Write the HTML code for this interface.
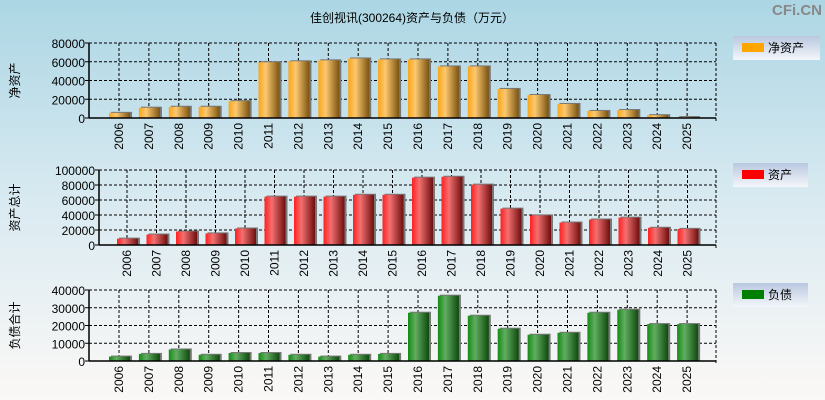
<!DOCTYPE html>
<html><head><meta charset="utf-8"><style>
body{margin:0;width:825px;height:400px;overflow:hidden;font-family:"Liberation Sans","Noto Sans CJK SC",sans-serif}
svg{display:block}
</style></head><body>
<svg id="c" width="825" height="400" xmlns="http://www.w3.org/2000/svg">
<defs>
<linearGradient id="bg" x1="0" y1="0" x2="0" y2="1"><stop offset="0" stop-color="#acd6e4"/><stop offset="0.5" stop-color="#d9eaf1"/><stop offset="1" stop-color="#fbf8f6"/></linearGradient>
<linearGradient id="go" x1="0" y1="0" x2="1" y2="0"><stop offset="0" stop-color="#f9a51a"/><stop offset="0.35" stop-color="#fcc870"/><stop offset="1" stop-color="#7a5310"/></linearGradient>
<linearGradient id="gr" x1="0" y1="0" x2="1" y2="0"><stop offset="0" stop-color="#ff2020"/><stop offset="0.35" stop-color="#f37070"/><stop offset="1" stop-color="#6e0e0e"/></linearGradient>
<linearGradient id="gg" x1="0" y1="0" x2="1" y2="0"><stop offset="0" stop-color="#138a13"/><stop offset="0.35" stop-color="#62ad62"/><stop offset="1" stop-color="#0d4a0d"/></linearGradient>
<linearGradient id="lg" x1="0" y1="0" x2="0" y2="1"><stop offset="0" stop-color="#b9c8e0"/><stop offset="1" stop-color="#f4f6fa"/></linearGradient>
</defs>
<rect width="825" height="400" fill="url(#bg)"/>
<text x="412" y="22" font-size="12" text-anchor="middle" fill="#000">佳创视讯(300264)资产与负债（万元）</text>
<text x="822" y="15" font-size="15" font-weight="bold" text-anchor="end" fill="#888">CFi.CN</text>
<g id="g"></g>
</svg>
<script>
const years=["2006","2007","2008","2009","2010","2011","2012","2013","2014","2015","2016","2017","2018","2019","2020","2021","2022","2023","2024","2025"];
const netAssets=[5500,11000,12000,12000,18000,59500,60500,61500,63500,62500,62500,55000,55000,31000,24500,15000,7500,8500,3000,1000];
const totalAssets=[8500,14000,18000,15500,22000,64500,64500,64500,67000,67000,89800,91000,80500,48500,39500,30000,34000,36500,23000,21500];
const liabilities=[2500,4000,6500,3500,4500,4500,3500,2500,3500,4000,27200,36800,25500,18200,14800,15900,27200,28900,20800,20800];
const ticks1=[0,20000,40000,60000,80000];
const ticks2=[0,20000,40000,60000,80000,100000];
const ticks3=[0,10000,20000,30000,40000];
const NS="http://www.w3.org/2000/svg";
const G=document.getElementById('g');
function mk(t,a,p){const e=document.createElementNS(NS,t);for(const k in a)e.setAttribute(k,a[k]);(p||G).appendChild(e);return e;}
function panel(o){
  const g=mk('g',{});
  
  
  const max=o.ticks[o.ticks.length-1];
  const y=v=>o.bot-(v/max)*(o.bot-o.top);
  const x=i=>o.c0+i*o.step;
  // grid
  o.ticks.forEach(t=>{ if(t>0){const l=mk('line',{x1:o.left,x2:o.right,y1:y(t),y2:y(t),stroke:'#000','stroke-dasharray':'3,2','stroke-width':1},g);}
    const tx=mk('text',{x:o.left-4,y:y(t)+5,'font-size':12,'text-anchor':'end',fill:'#000'},g);tx.textContent=t;
    
    mk('line',{x1:o.left-4,x2:o.left,y1:y(t),y2:y(t),stroke:'#000'},g);
  });
  years.forEach((yr,i)=>{const l=mk('line',{x1:x(i),x2:x(i),y1:o.top,y2:o.bot,stroke:'#000','stroke-dasharray':'3,2'},g);
    });
  mk('line',{x1:o.right,x2:o.right,y1:o.top,y2:o.bot+3,stroke:'#000','stroke-dasharray':'3,2'},g);
  // bars
  o.vals.forEach((v,i)=>{
    const h=o.bot-y(v);
    mk('rect',{x:x(i)-10+2,y:y(v)-1,width:21,height:h+1,fill:'#777'},g);
    const r=mk('rect',{x:x(i)-11+1,y:y(v),width:21,height:h,fill:'url(#'+o.grad+')'},g);
    
    
    const t=mk('text',{x:0,y:0,'font-size':12,'text-anchor':'end',fill:'#000',transform:`translate(${x(i)+4},${o.bot+5}) rotate(-90)`},g);
    t.textContent=years[i];
    
    
  });
  mk('line',{x1:o.left,x2:o.left,y1:o.top,y2:o.bot,stroke:'#000','stroke-width':1.5},g);
  mk('line',{x1:o.left,x2:o.right,y1:o.bot,y2:o.bot,stroke:'#000','stroke-width':1.5},g);
  const yl=mk('text',{x:0,y:0,'font-size':12,'text-anchor':'middle',fill:'#000',transform:`translate(19,${(o.top+o.bot)/2}) rotate(-90)`},g);
  yl.textContent=o.ytitle;
  
  
  // legend
  const lg=mk('g',{},g);
  
  
  mk('rect',{x:733,y:o.ly,width:o.lw,height:24,fill:'url(#lg)'},lg);
  mk('rect',{x:742,y:o.ly+7,width:22,height:9,fill:o.lc},lg);
  const lt=mk('text',{x:768,y:o.ly+16,'font-size':12,fill:'#000'},lg);lt.textContent=o.label;
}
panel({name:'net-assets',vals:netAssets,ticks:ticks1,top:43,bot:118,left:89,right:716,c0:119,step:29.9,grad:'go',ytitle:'净资产',ly:36,lw:87,lc:'#ffa500',label:'净资产'});
panel({name:'total-assets',vals:totalAssets,ticks:ticks2,top:170,bot:245,left:99,right:716,c0:127,step:29.5,grad:'gr',ytitle:'资产总计',ly:163,lw:75,lc:'#ff0000',label:'资产'});
panel({name:'liabilities',vals:liabilities,ticks:ticks3,top:290,bot:361,left:89,right:716,c0:119,step:29.9,grad:'gg',ytitle:'负债合计',ly:283,lw:75,lc:'#008000',label:'负债'});
</script>
</body></html>
